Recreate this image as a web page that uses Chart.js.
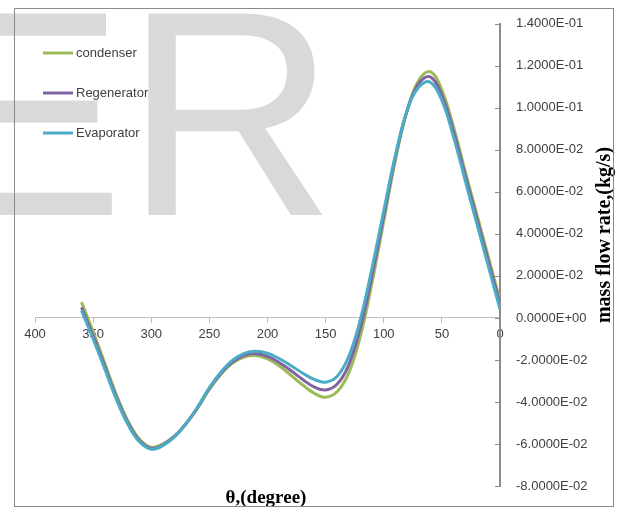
<!DOCTYPE html>
<html>
<head>
<meta charset="utf-8">
<script src="https://cdn.jsdelivr.net/npm/chart.js@4.4.0/dist/chart.umd.min.js"></script>
<style>
body { margin: 0; background: #fff; }
#wrap { width: 625px; height: 510px; }
</style>
</head>
<body>
<div id="wrap"><canvas id="flow-chart" width="625" height="510"></canvas></div>
<script>
// crank angle, degrees
var arrTheta = [360, 350, 340, 330, 320, 310, 300, 290, 280, 270, 260, 250, 240, 230, 220, 210, 200, 190, 180,
                170, 160, 150, 140, 130, 120, 110, 100, 90, 80, 70, 60, 50, 40, 30, 20, 10, 0];

// mass flow rate, kg/s
var arrCondenser = [0.0075, -0.0065, -0.0215, -0.0365, -0.0490, -0.0578, -0.0616, -0.0600, -0.0562, -0.0503,
                    -0.0428, -0.0340, -0.0268, -0.0215, -0.0186, -0.0179, -0.0195, -0.0228, -0.0272,
                    -0.0318, -0.0358, -0.0377, -0.0350, -0.0260, -0.0085, 0.0170, 0.0460, 0.0750, 0.0985,
                    0.1130, 0.1172, 0.1085, 0.0910, 0.0700, 0.0495, 0.0290, 0.0085];
var arrRegenerator = [0.0050, -0.0085, -0.0230, -0.0377, -0.0500, -0.0585, -0.0621, -0.0604, -0.0564, -0.0503,
                      -0.0426, -0.0336, -0.0263, -0.0209, -0.0178, -0.0170, -0.0183, -0.0212, -0.0250,
                      -0.0292, -0.0328, -0.0343, -0.0315, -0.0222, -0.0045, 0.0205, 0.0485, 0.0765, 0.0985,
                      0.1115, 0.1147, 0.1060, 0.0888, 0.0680, 0.0475, 0.0270, 0.0065];
var arrEvaporator = [0.0035, -0.0100, -0.0243, -0.0388, -0.0508, -0.0591, -0.0625, -0.0608, -0.0566, -0.0502,
                     -0.0423, -0.0331, -0.0257, -0.0201, -0.0169, -0.0159, -0.0168, -0.0193, -0.0226,
                     -0.0262, -0.0292, -0.0306, -0.0278, -0.0182, -0.0005, 0.0240, 0.0510, 0.0775, 0.0985,
                     0.1098, 0.1122, 0.1035, 0.0862, 0.0655, 0.0450, 0.0245, 0.0042];

var arrLabel = ['condenser', 'Regenerator', 'Evaporator'];
var arrColor = ['#9bbb59', '#8064a2', '#4bacc6'];

var xMin = 0, xMax = 400, xStep = 50;
var yMin = -0.08, yMax = 0.14, yStep = 0.02;
var xTitle = 'θ,(degree)';
var yTitle = 'mass flow rate,(kg/s)';
var watermark = 'ER';

function toPoints(arr) {
    return arr.map(function (v, i) { return {x: arrTheta[i], y: v}; });
}

function sciLabel(v) {
    if (Math.abs(v) < 1e-9) v = 0;
    var parts = v.toExponential(4).split('e');
    var exp = parseInt(parts[1], 10);
    var sign = exp < 0 ? '-' : '+';
    exp = Math.abs(exp);
    return parts[0] + 'E' + sign + (exp < 10 ? '0' : '') + exp;
}

var decorPlugin = {
    id: 'decor',
    beforeDraw: function (chart) {
        var c = chart.ctx;
        c.save();
        c.fillStyle = '#ffffff';
        c.fillRect(0, 0, chart.width, chart.height);
        c.fillStyle = '#d9d9d9';
        c.font = '293px "Liberation Sans"';
        c.textBaseline = 'alphabetic';
        c.fillText(watermark, -71, 215);
        c.restore();
    },
    afterDraw: function (chart) {
        var c = chart.ctx, area = chart.chartArea, yScale = chart.scales.y;
        c.save();

        // small ticks on the inner side of the value axis
        c.strokeStyle = '#8c8c8c';
        c.lineWidth = 1;
        yScale.ticks.forEach(function (t) {
            var py = Math.round(yScale.getPixelForValue(t.value)) + 0.5;
            c.beginPath();
            c.moveTo(area.right - 5, py);
            c.lineTo(area.right, py);
            c.stroke();
        });

        // legend
        c.font = '13px "Liberation Sans"';
        c.textBaseline = 'middle';
        c.textAlign = 'left';
        c.fillStyle = '#404040';
        chart.data.datasets.forEach(function (ds, i) {
            var ly = 53 + i * 40;
            c.strokeStyle = ds.borderColor;
            c.lineWidth = 3;
            c.beginPath();
            c.moveTo(43, ly);
            c.lineTo(73, ly);
            c.stroke();
            c.fillText(ds.label, 76, ly);
        });

        // axis titles
        c.fillStyle = '#000000';
        c.textAlign = 'center';
        c.font = 'bold 19px "Liberation Serif"';
        c.fillText(xTitle, 266, 498);
        c.save();
        c.translate(605, 235);
        c.rotate(-Math.PI / 2);
        c.font = 'bold 20px "Liberation Serif"';
        c.fillText(yTitle, 0, 0);
        c.restore();

        // outer frame
        c.strokeStyle = '#8a8a8a';
        c.lineWidth = 1;
        c.strokeRect(14.5, 8.5, 599, 498);
        c.restore();
    }
};

var tickFont = {family: '"Liberation Sans"', size: 13};

var configLine = {
    type: 'line',
    data: {
        datasets: [{
            label: arrLabel[0],
            data: toPoints(arrCondenser),
            borderColor: arrColor[0],
            order: 2
        }, {
            label: arrLabel[1],
            data: toPoints(arrRegenerator),
            borderColor: arrColor[1],
            order: 1
        }, {
            label: arrLabel[2],
            data: toPoints(arrEvaporator),
            borderColor: arrColor[2],
            order: 0
        }]
    },
    options: {
        responsive: false,
        animation: false,
        layout: {padding: {left: 35, top: 19, right: 0, bottom: 24}},
        elements: {
            line: {borderWidth: 3, tension: 0.4, fill: false},
            point: {radius: 0}
        },
        plugins: {
            legend: {display: false},
            tooltip: {enabled: false}
        },
        scales: {
            x: {
                type: 'linear',
                position: {y: 0},
                reverse: true,
                min: xMin,
                max: xMax,
                ticks: {stepSize: xStep, color: '#404040', font: tickFont, padding: 4, maxRotation: 0},
                grid: {drawOnChartArea: false, drawTicks: true, tickLength: 5, color: '#bfbfbf'},
                border: {display: true, color: '#bfbfbf', width: 1}
            },
            y: {
                type: 'linear',
                position: 'right',
                min: yMin,
                max: yMax,
                ticks: {
                    stepSize: yStep,
                    autoSkip: false,
                    color: '#404040',
                    font: tickFont,
                    padding: 16,
                    callback: function (v) { return sciLabel(v); }
                },
                grid: {drawOnChartArea: false, drawTicks: false},
                border: {display: true, color: '#8c8c8c', width: 2},
                afterFit: function (scale) { scale.width = 125; }
            }
        }
    },
    plugins: [decorPlugin]
};

var myChartLine = document.getElementById('flow-chart').getContext('2d');
var myLine = new Chart(myChartLine, configLine);
</script>
</body>
</html>
